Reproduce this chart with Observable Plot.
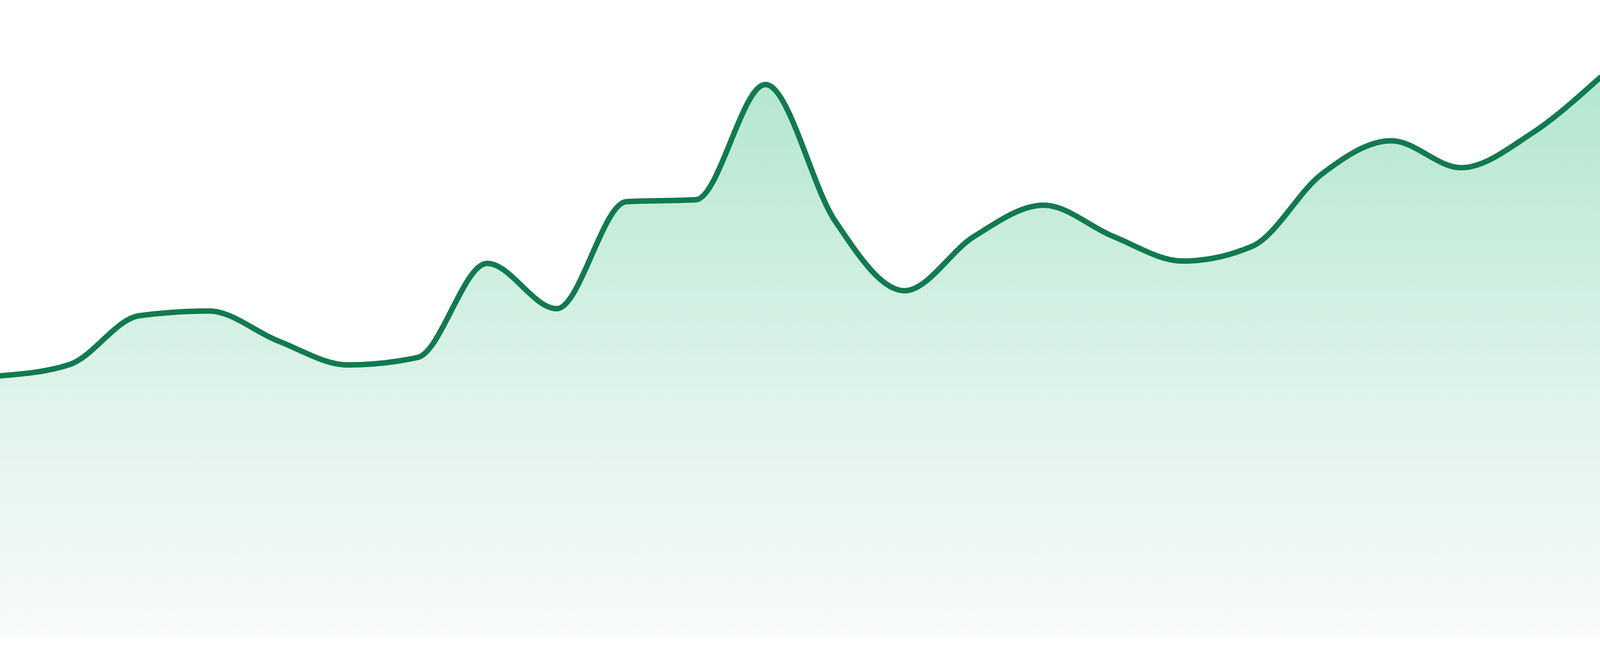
<!DOCTYPE html>
<html>
<head>
<meta charset="utf-8">
<script src="https://cdn.jsdelivr.net/npm/d3@7"></script>
<script src="https://cdn.jsdelivr.net/npm/@observablehq/plot@0.6"></script>
<style>
  html, body { margin: 0; padding: 0; background: #ffffff; overflow: hidden; }
  #chart svg { display: block; }
</style>
</head>
<body>
<div id="chart"></div>
<script>
// Period index (categories) and series values
const periods = [0, 1, 2, 3, 4, 5, 6, 7, 8, 9, 10, 11, 12, 13, 14, 15, 16, 17, 18, 19, 20, 21, 22, 23];
const values = [66.5, 69.4, 81.9, 83.1, 75.4, 69.3, 71.2, 95.3, 83.7, 111.1, 111.6, 141.1,
                106.2, 88.3, 102.2, 110.2, 102.2, 95.9, 99.7, 118.2, 126.7, 119.8, 128.4, 142.9];
const yMax = 162.7;

const data = periods.map((p, i) => ({period: p, value: values[i]}));

function gradientDefs() {
  const ns = "http://www.w3.org/2000/svg";
  const defs = document.createElementNS(ns, "defs");
  const lg = document.createElementNS(ns, "linearGradient");
  lg.setAttribute("id", "areaFill");
  lg.setAttribute("x1", "0"); lg.setAttribute("y1", "0");
  lg.setAttribute("x2", "0"); lg.setAttribute("y2", "1");
  [["0", "#b3e6d0"], ["0.56", "#def3ea"], ["1", "#f8fbf9"]].forEach(([o, c]) => {
    const s = document.createElementNS(ns, "stop");
    s.setAttribute("offset", o);
    s.setAttribute("stop-color", c);
    lg.appendChild(s);
  });
  defs.appendChild(lg);
  return defs;
}

// Fill the actual viewport (the window may be narrower than 4800 CSS px)
const W = window.innerWidth || 4800;
const H = window.innerHeight || 1680;
const ky = H / 1680;

const chart = Plot.plot({
  width: W,
  height: H,
  marginTop: 0,
  marginRight: 0,
  marginBottom: Math.round(53 * ky),
  marginLeft: 0,
  x: {type: "linear", domain: [periods[0], periods[periods.length - 1]], axis: null},
  y: {domain: [0, yMax], axis: null},
  marks: [
    gradientDefs,
    Plot.areaY(data, {x: "period", y: "value", fill: "url(#areaFill)", curve: "monotone-x"}),
    Plot.lineY(data, {x: "period", y: "value", stroke: "#127a50", strokeWidth: 14 * ky, curve: "monotone-x"})
  ]
});
document.getElementById("chart").appendChild(chart);
</script>
</body>
</html>
